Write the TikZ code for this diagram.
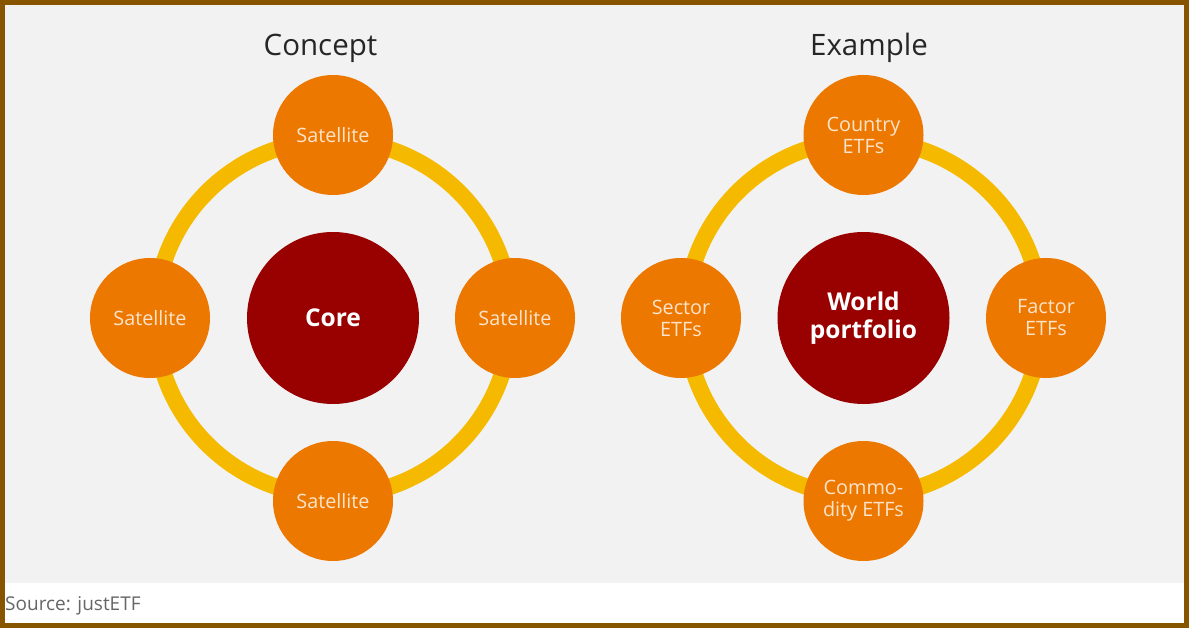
\documentclass[tikz,border=0pt]{standalone}
\usepackage{fontspec}
\setmainfont{Open Sans}
\usetikzlibrary{backgrounds,positioning}
\definecolor{framebrown}{HTML}{875400}
\definecolor{panelgray}{HTML}{F2F2F2}
\definecolor{ringyellow}{HTML}{F5BA00}
\definecolor{satorange}{HTML}{ED7800}
\definecolor{coredark}{HTML}{990000}
\definecolor{sattext}{HTML}{FCE4CC}
\definecolor{titletext}{HTML}{262626}
\definecolor{sourcetext}{HTML}{666666}
\begin{document}
\begin{tikzpicture}[x=1pt, y=-1pt,
    satellite/.style={circle, fill=satorange, text=sattext, minimum size=120pt, inner sep=0pt, align=center, font=\fontsize{19.8}{22}\selectfont},
    core/.style={circle, fill=coredark, text=white, minimum size=172pt, inner sep=0pt, align=center, font=\fontsize{24.5}{28}\selectfont\bfseries},
    heading/.style={text=titletext, inner sep=0pt, font=\fontsize{29.5}{34}\selectfont},
    ringline/.style={ringyellow, line width=16.5pt}]
    \useasboundingbox (0,0) rectangle (1189,628);
    \node[core] (core) at (333,318) {Core};
    \node[satellite] (sattop) at (333,135) {Satellite};
    \node[satellite] (satbottom) at (333,501) {Satellite};
    \node[satellite] (satleft) at (150,318) {Satellite};
    \node[satellite] (satright) at (515,318) {Satellite};
    \node[heading] (concept) at (320.5,48) {Concept};
    \coordinate (ringtop) at (333,140);
    \coordinate (ringbottom) at (333,496);
    \coordinate (ringleft) at (155,318);
    \coordinate (ringright) at (511,318);

    \node[core] (world) at (863.5,318) {World\\portfolio};
    \node[satellite] (country) at (863.5,135) {Country\\ETFs};
    \node[satellite] (commodity) at (863.5,501) {Commo-\\dity ETFs};
    \node[satellite] (sector) at (681,318) {Sector\\ETFs};
    \node[satellite] (factor) at (1046,318) {Factor\\ETFs};
    \node[heading] (example) at (869,48) {Example};
    \coordinate (worldtop) at (863.5,140);
    \coordinate (worldbottom) at (863.5,496);
    \coordinate (worldleft) at (685.5,318);
    \coordinate (worldright) at (1041.5,318);

    \node[text=sourcetext, inner sep=0pt, anchor=west, font=\fontsize{19}{22}\selectfont] (source) at (5,605.5) {Source: justETF};

    \begin{scope}[on background layer]
        \fill[white] (0,0) rectangle (1189,628);
        \fill[panelgray] (5,5) rectangle (1184,583);
        \draw[framebrown, line width=5pt] (2.5,2.5) rectangle (1186.5,625.5);
        \draw[ringline] (ringtop) to[out=0, in=90] (ringright);
        \draw[ringline] (ringright) to[out=-90, in=0] (ringbottom);
        \draw[ringline] (ringbottom) to[out=180, in=-90] (ringleft);
        \draw[ringline] (ringleft) to[out=90, in=180] (ringtop);
        \draw[ringline] (worldtop) to[out=0, in=90] (worldright);
        \draw[ringline] (worldright) to[out=-90, in=0] (worldbottom);
        \draw[ringline] (worldbottom) to[out=180, in=-90] (worldleft);
        \draw[ringline] (worldleft) to[out=90, in=180] (worldtop);
    \end{scope}
\end{tikzpicture}
\end{document}
